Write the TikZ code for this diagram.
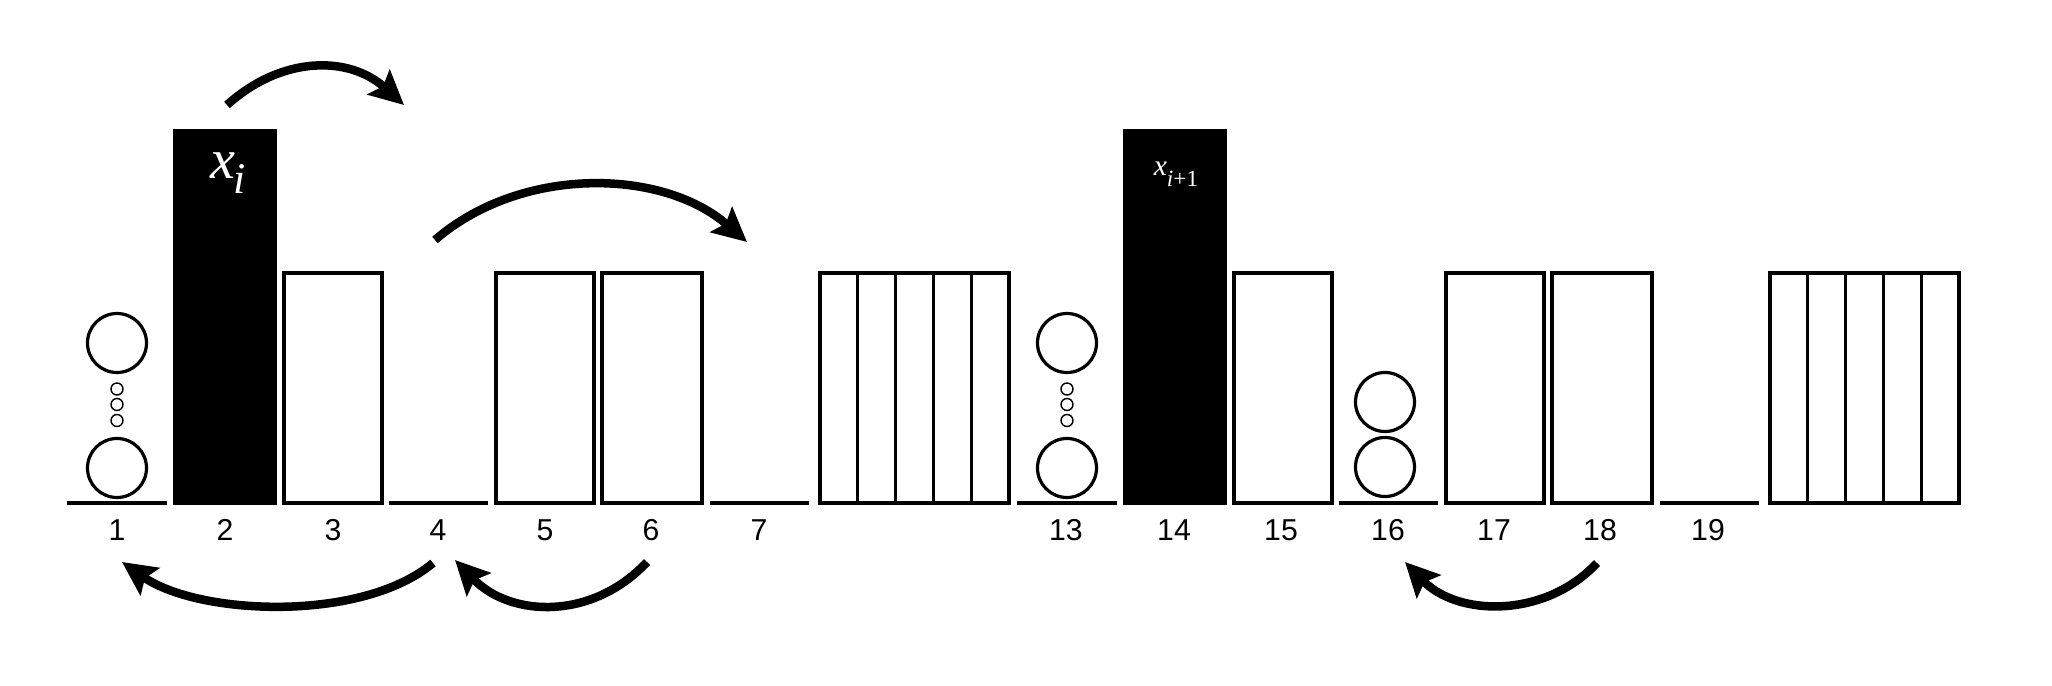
\documentclass[tikz,border=0pt]{standalone}
\usepackage{fontspec}
\setmainfont{Liberation Sans}
\newfontfamily\tmsfont{Liberation Serif}
\usetikzlibrary{arrows.meta}
\begin{document}
\begin{tikzpicture}[x=0.1mm,y=0.1mm,
  box/.style={draw=black, line width=0.36mm, fill=white},
  floor/.style={line width=0.37mm},
  ball/.style={draw=black, line width=0.32mm},
  tinyball/.style={draw=black, line width=0.14mm},
  lab/.style={font=\fontsize{8.6}{8.6}\selectfont, inner sep=0pt},
  jump/.style={line width=0.85mm, -{Stealth[length=3.4mm,width=3.3mm,inset=0.6mm]}}
]
\useasboundingbox (0,0) rectangle (2052,686);

% two identical groups of slots
\foreach \s in {0,950} {
  \draw[floor] (67+\s,183) -- (167+\s,183);
  \fill[black] (173+\s,181) rectangle (277+\s,557);
  \draw[box] (283.8+\s,182.8) rectangle (382.2+\s,413.2);
  \draw[floor] (389+\s,183) -- (488+\s,183);
  \draw[box] (495.8+\s,182.8) rectangle (594.2+\s,413.2);
  \draw[box] (601.8+\s,182.8) rectangle (702.2+\s,413.2);
  \draw[floor] (710+\s,183) -- (809+\s,183);
  \draw[box] (819.8+\s,182.8) rectangle (1009.2+\s,413.2);
  \foreach \d in {857.6,895.5,933.5,971.4}
    \draw[line width=0.36mm] (\d+\s,182.8) -- (\d+\s,413.2);
  % stacked balls with dots
  \draw[ball] (117+\s,343) circle[radius=29.5];
  \draw[ball] (117+\s,218) circle[radius=29.5];
  \draw[tinyball] (117+\s,297) circle[radius=6];
  \draw[tinyball] (117+\s,281.5) circle[radius=6];
  \draw[tinyball] (117+\s,265.5) circle[radius=6];
}
% two balls in slot 16
\draw[ball] (1385,284) circle[radius=29.5];
\draw[ball] (1385,219) circle[radius=29.5];

% labels in black boxes
\node[inner sep=0pt, text=white, font=\tmsfont\itshape\fontsize{16}{16}\selectfont] (xi) at (228,513)
  {x\kern-0.5pt\raisebox{-4.2pt}{\fontsize{12.5}{12.5}\selectfont i}};
\node[inner sep=0pt, text=white, font=\tmsfont\itshape\fontsize{8.4}{8.4}\selectfont] (xi1) at (1176,511.5)
  {x\raisebox{-3.1pt}{\fontsize{6.6}{6.6}\selectfont i\upshape +1}};

% slot numbers
\node[lab] (n1)  at (117,156) {1};
\node[lab] (n2)  at (225,156) {2};
\node[lab] (n3)  at (333,156) {3};
\node[lab] (n4)  at (438,156) {4};
\node[lab] (n5)  at (545,156) {5};
\node[lab] (n6)  at (651,156) {6};
\node[lab] (n7)  at (759,156) {7};
\node[lab] (n13) at (1066,156) {13};
\node[lab] (n14) at (1174,156) {14};
\node[lab] (n15) at (1281,156) {15};
\node[lab] (n16) at (1388,156) {16};
\node[lab] (n17) at (1494,156) {17};
\node[lab] (n18) at (1600,156) {18};
\node[lab] (n19) at (1708,156) {19};

% arrow end points
\coordinate (a1s) at (227,581);
\coordinate (a1e) at (404,581);
\coordinate (a2s) at (435,446);
\coordinate (a2e) at (747,444);
\coordinate (a3s) at (433,123);
\coordinate (a3e) at (122,124);
\coordinate (a4s) at (647,124);
\coordinate (a4e) at (455,126);
\coordinate (a5s) at (1597,123);
\coordinate (a5e) at (1405,124);

\draw[jump] (a1s) to[out=42, in=138, distance=7.4mm] (a1e);
\draw[jump] (a2s) to[out=41, in=139, distance=11.3mm] (a2e);
\draw[jump] (a3s) to[out=-140, in=-35, distance=9.3mm] (a3e);
\draw[jump] (a4s) to[out=-133, in=-46, distance=8mm] (a4e);
\draw[jump] (a5s) to[out=-133, in=-46, distance=7.6mm] (a5e);
\end{tikzpicture}
\end{document}
